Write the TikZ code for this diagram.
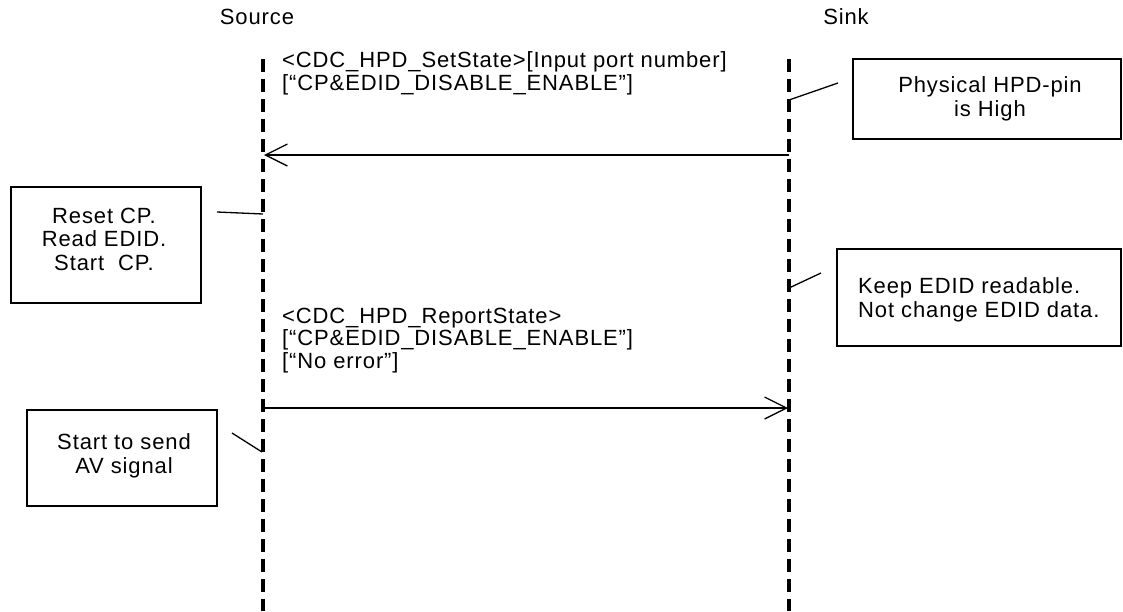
\documentclass[tikz,border=0pt]{standalone}
\usepackage{fontspec}
\setmainfont{Liberation Sans}[LetterSpace=4]
\usetikzlibrary{arrows.meta}
\begin{document}
\begin{tikzpicture}[x=1pt,y=-1pt,
  every node/.style={font=\fontsize{22}{23.5}\selectfont, inner sep=0pt},
  lifeline/.style={line width=4pt, dash pattern=on 13pt off 7pt},
  msg/.style={line width=1.3pt, -{Straight Barb[length=22pt,width=22pt,line width=1.3pt]}},
  notebox/.style={draw, line width=1.3pt, rectangle},
  lead/.style={line width=1.3pt},
  lbl/.style={anchor=base west},
  boxtext/.style={align=center}]
\useasboundingbox (0,0) rectangle (1123,611);

% headers
\node (source) at (257,17) {Source};
\node (sink) at (846,17) {Sink};

% lifelines
\coordinate (srcTop) at (263,59);
\coordinate (srcBot) at (263,611);
\coordinate (snkTop) at (789,59);
\coordinate (snkBot) at (789,611);
\draw[lifeline] (srcTop) -- (srcBot);
\draw[lifeline] (snkTop) -- (snkBot);

% message 1
\node[lbl] (m1a) at (282,67) {<CDC\_HPD\_SetState>[Input port number]};
\node[lbl] (m1b) at (282,90) {[“CP\&EDID\_DISABLE\_ENABLE”]};
\coordinate (m1s) at (789,155);
\coordinate (m1e) at (264,155);
\draw[msg] (m1s) -- (m1e);

% message 2
\node[lbl] (m2a) at (282,323) {<CDC\_HPD\_ReportState>};
\node[lbl] (m2b) at (282,345.5) {[“CP\&EDID\_DISABLE\_ENABLE”]};
\node[lbl] (m2c) at (282,368) {[“No error”]};
\coordinate (m2s) at (263,408);
\coordinate (m2e) at (788,408);
\draw[msg] (m2s) -- (m2e);

% note boxes
\node[notebox, minimum width=268pt, minimum height=80pt] (phys) at (987,99) {};
\node[boxtext] (physTxt) at (990,99) {Physical HPD-pin\\is High};
\coordinate (physA) at (838,83);
\coordinate (physB) at (789,100);
\draw[lead] (physA) -- (physB);

\node[notebox, minimum width=190pt, minimum height=116pt] (reset) at (106,245) {};
\node[boxtext] (resetTxt) at (104,239) {Reset CP.\\Read EDID.\\Start\ \ CP.};
\coordinate (resetA) at (217,212);
\coordinate (resetB) at (263,214);
\draw[lead] (resetA) -- (resetB);

\node[notebox, minimum width=284pt, minimum height=97pt] (keep) at (979,297.5) {};
\node[align=left, anchor=west] (keepTxt) at (858,300) {Keep EDID readable.\\Not change EDID data.};
\coordinate (keepA) at (821,273);
\coordinate (keepB) at (789,288);
\draw[lead] (keepA) -- (keepB);

\node[notebox, minimum width=190pt, minimum height=96pt] (start) at (122,458) {};
\node[boxtext] (startTxt) at (124,456) {Start to send\\AV signal};
\coordinate (startA) at (232,433);
\coordinate (startB) at (262,452);
\draw[lead] (startA) -- (startB);
\end{tikzpicture}
\end{document}
